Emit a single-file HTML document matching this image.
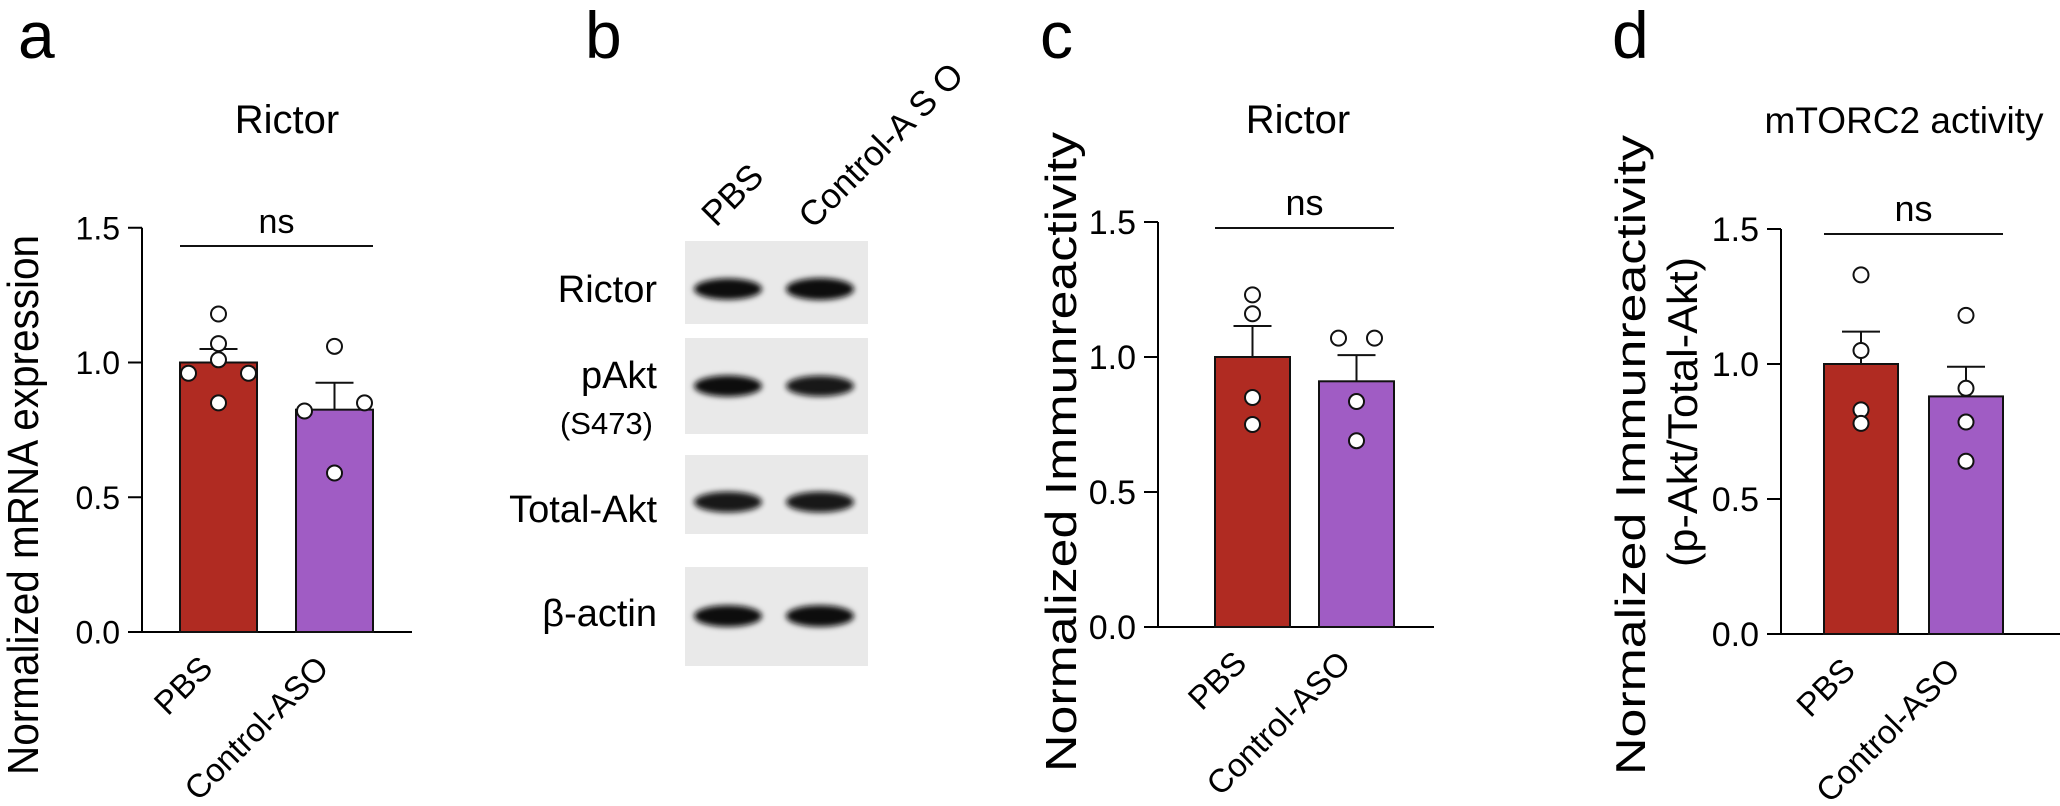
<!DOCTYPE html>
<html><head><meta charset="utf-8">
<style>
html,body{margin:0;padding:0;background:#fff;}
svg{display:block;font-family:"Liberation Sans",sans-serif;}
</style></head>
<body>
<svg id="fig" width="2060" height="806" viewBox="0 0 2060 806" xmlns="http://www.w3.org/2000/svg">
<defs>
<filter id="blur" x="-20%" y="-100%" width="140%" height="300%"><feGaussianBlur stdDeviation="3"/></filter>
</defs>
<g id="root"></g>
</svg>
<script>
// ---- data ----
const categories = ["PBS", "Control-ASO"];
const tickValues = [0, 0.5, 1.0, 1.5];
const tickLabels = ["0.0", "0.5", "1.0", "1.5"];
// panel a: Rictor mRNA
const aMeans = [1.0, 0.825];
const aErr = [1.05, 0.925];
const aPbsPoints = [1.18, 1.07, 1.01, 0.96, 0.96, 0.85];
const aPbsOffsets = [0, 0, 0, -1, 1, 0];
const aCtrlPoints = [1.06, 0.82, 0.85, 0.59];
const aCtrlOffsets = [0, -1, 1, 0];
// panel c: Rictor immunoreactivity
const cMeans = [1.0, 0.91];
const cErr = [1.115, 1.007];
const cPbsPoints = [1.23, 1.16, 0.85, 0.75];
const cPbsOffsets = [0, 0, 0, 0];
const cCtrlPoints = [1.07, 1.07, 0.835, 0.69];
const cCtrlOffsets = [-0.6, 0.6, 0, 0];
// panel d: mTORC2 activity
const dMeans = [1.0, 0.88];
const dErr = [1.12, 0.99];
const dPbsPoints = [1.33, 1.05, 0.83, 0.78];
const dPbsOffsets = [0, 0, 0, 0];
const dCtrlPoints = [1.18, 0.91, 0.785, 0.64];
const dCtrlOffsets = [0, 0, 0, 0];

const NS = "http://www.w3.org/2000/svg";
const root = document.getElementById("root");
const COLORS = ["#b02b22", "#a05cc4"];
function mk(tag, attrs, parent, text) {
  const e = document.createElementNS(NS, tag);
  for (const k in attrs) e.setAttribute(k, attrs[k]);
  if (text !== undefined) e.textContent = text;
  (parent || root).appendChild(e);
  return e;
}

function panel(p) {
  const g = mk("g", {});
  
  
  const y = v => p.y0 - v * p.scale;
  const ax = mk("line", {x1: p.ax, y1: y(1.5), x2: p.ax, y2: p.y0, stroke: "#000", "stroke-width": 2}, g);
  
  
  const xa = mk("line", {x1: p.ax - 14, y1: p.y0, x2: p.axEnd, y2: p.y0, stroke: "#000", "stroke-width": 2}, g);
  
  
  tickValues.forEach((tv, i) => {
    const t = mk("line", {x1: p.ax - 14, y1: y(tv), x2: p.ax, y2: y(tv), stroke: "#000", "stroke-width": 2}, g);
    
    
    const l = mk("text", {x: p.ax - 22, y: y(tv) + p.tickFont * 0.36, "text-anchor": "end", "font-size": p.tickFont}, g, tickLabels[i]);
    
    
  });
  p.means.forEach((m, i) => {
    const x0 = p.barX[i], w = p.barW;
    const cx = x0 + w / 2;
    const b = mk("rect", {x: x0, y: y(m), width: w, height: p.y0 - y(m), fill: COLORS[i], stroke: "#111", "stroke-width": 2}, g);
    
    
    const e1 = mk("line", {x1: cx, y1: y(m), x2: cx, y2: y(p.err[i]), stroke: "#111", "stroke-width": 2}, g);
    
    
    const e2 = mk("line", {x1: cx - 19, y1: y(p.err[i]), x2: cx + 19, y2: y(p.err[i]), stroke: "#111", "stroke-width": 2}, g);
    
    
    const pts = p.points[i], offs = p.offsets[i];
    pts.forEach((v, j) => {
      const c = mk("circle", {cx: cx + offs[j] * 30, cy: y(v), r: 7.5, fill: "#fff", stroke: "#111", "stroke-width": 2}, g);
      
      
    });
    const xl = mk("text", {x: 0, y: 0, "text-anchor": "end", "font-size": p.catFont,
      transform: `translate(${cx - 4},${p.y0 + 38}) rotate(-45)`}, g, categories[i]);
    
    
  });
  const sl = mk("line", {x1: p.barX[0], y1: p.nsLineY, x2: p.barX[1] + p.barW, y2: p.nsLineY, stroke: "#111", "stroke-width": 2}, g);
  
  
  const nst = mk("text", {x: (p.barX[0] + p.barX[1] + p.barW) / 2, y: p.nsLineY - 13, "text-anchor": "middle", "font-size": p.tickFont + 2}, g, "ns");
  
  
  const ti = mk("text", {x: p.titleX, y: 133, "text-anchor": "middle", "font-size": p.titleFont}, g, p.title);
  
  
  p.ylabels.forEach(yl => {
    const t = mk("text", {x: 0, y: 0, "text-anchor": "middle", "font-size": yl.size, textLength: yl.len, lengthAdjust: "spacingAndGlyphs",
      transform: `translate(${yl.x},${yl.cy}) rotate(-90)`}, g, yl.text);
    
    
  });
  const L = mk("text", {x: p.letterX, y: 58, "font-size": 66}, g, p.letter);
  
  
}

panel({name: "panel-a-rictor-mrna", letter: "a", letterX: 18, ax: 142, axEnd: 412, y0: 632, scale: 269.5,
  barX: [180, 296], barW: 77, means: aMeans, err: aErr, points: [aPbsPoints, aCtrlPoints], offsets: [aPbsOffsets, aCtrlOffsets],
  nsLineY: 246, title: "Rictor", titleX: 287, titleFont: 40, tickFont: 32, catFont: 33,
  ylabels: [{text: "Normalized mRNA expression", x: 38, cy: 505, size: 44, len: 540}]});

panel({name: "panel-c-rictor-protein", letter: "c", letterX: 1040, ax: 1158, axEnd: 1434, y0: 627, scale: 270,
  barX: [1215, 1319], barW: 75, means: cMeans, err: cErr, points: [cPbsPoints, cCtrlPoints], offsets: [cPbsOffsets, cCtrlOffsets],
  nsLineY: 228, title: "Rictor", titleX: 1298, titleFont: 40, tickFont: 34, catFont: 33,
  ylabels: [{text: "Normalized Immunreactivity", x: 1076, cy: 452, size: 44, len: 640}]});

panel({name: "panel-d-mtorc2-activity", letter: "d", letterX: 1612, ax: 1781, axEnd: 2060, y0: 634, scale: 270,
  barX: [1824, 1929], barW: 74, means: dMeans, err: dErr, points: [dPbsPoints, dCtrlPoints], offsets: [dPbsOffsets, dCtrlOffsets],
  nsLineY: 234, title: "mTORC2 activity", titleX: 1904, titleFont: 37, tickFont: 34, catFont: 33,
  ylabels: [{text: "Normalized Immunreactivity", x: 1645, cy: 455, size: 42, len: 640},
            {text: "(p-Akt/Total-Akt)", x: 1697, cy: 412, size: 42, len: 310}]});

// ---- panel b: western blot ----
const blotRows = ["Rictor", "pAkt", "Total-Akt", "β-actin"];
const bandStrength = [[0.9, 1.0], [0.9, 0.85], [0.85, 0.85], [0.95, 0.95]];
(function () {
  const g = mk("g", {});
  
  
  const boxes = [[241, 324], [338, 434], [455, 534], [567, 666]];
  const bandY = [289, 386, 502, 616];
  const labelY = [302, 388, 522, 626];
  blotRows.forEach((r, i) => {
    const bx = mk("rect", {x: 685, y: boxes[i][0], width: 183, height: boxes[i][1] - boxes[i][0], fill: "#e9e9e9"}, g);
    
    
    [728, 820].forEach((cx, j) => {
      const s = bandStrength[i][j];
      const b = mk("ellipse", {cx: cx, cy: bandY[i], rx: 34, ry: 7 + 4 * s, fill: "#0a0a0a", opacity: Math.min(1, s + 0.1), filter: "url(#blur)"}, g);
      
      
    });
    const t = mk("text", {x: 657, y: labelY[i], "text-anchor": "end", "font-size": 38}, g, r);
    
    
  });
  const s = mk("text", {x: 653, y: 434, "text-anchor": "end", "font-size": 31}, g, "(S473)");
  
  
  const l1 = mk("text", {x: 0, y: 0, "font-size": 35, transform: "translate(716,228) rotate(-45)"}, g, "PBS");
  
  
  const l2 = mk("text", {x: 0, y: 0, "font-size": 35, transform: "translate(813,230) rotate(-45)"}, g, "Control-A S O");
  
  
  const L = mk("text", {x: 585, y: 58, "font-size": 66}, g, "b");
  
  
})();
</script>
</body></html>
